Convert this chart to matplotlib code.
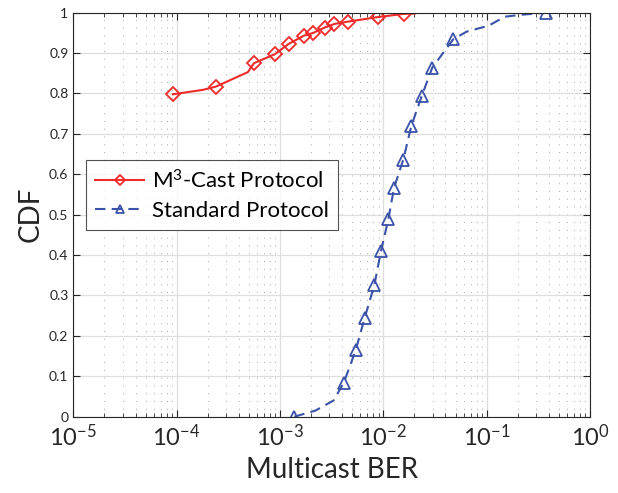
import numpy as np
import matplotlib.pyplot as plt
from matplotlib.ticker import LogLocator, FixedLocator, NullFormatter

plt.rcParams['font.family'] = ['Lato', 'DejaVu Sans']
plt.rcParams['mathtext.fontset'] = 'custom'
plt.rcParams['mathtext.rm'] = 'Lato'
plt.rcParams['mathtext.it'] = 'Lato'

# M3-Cast protocol CDF (points without a marker shape the line between markers)
m3_ber = [9.2e-5, 1.8e-4, 2.4e-4, 4.9e-4, 5.6e-4, 8.9e-4, 1.22e-3, 1.7e-3,
          2.1e-3, 2.7e-3, 3.35e-3, 4.6e-3, 8.8e-3, 1.58e-2, 2.03e-2]
m3_cdf = [0.798, 0.809, 0.817, 0.853, 0.875, 0.897, 0.923, 0.943,
          0.950, 0.963, 0.972, 0.978, 0.989, 0.997, 0.998]
m3_marked = [0, 2, 4, 5, 6, 7, 8, 9, 10, 11, 12, 13]

# Standard protocol CDF
std_ber = [1.38e-3, 2.2e-3, 3.3e-3, 4.15e-3, 5.4e-3, 6.6e-3, 8.2e-3, 9.5e-3,
           1.12e-2, 1.27e-2, 1.56e-2, 1.87e-2, 2.35e-2, 2.98e-2, 4.75e-2,
           6.4e-2, 1.05e-1, 1.5e-1, 2.2e-1, 3.72e-1]
std_cdf = [0.0, 0.015, 0.04, 0.084, 0.164, 0.244, 0.326, 0.41,
           0.489, 0.566, 0.636, 0.72, 0.793, 0.864, 0.934,
           0.953, 0.968, 0.99, 0.995, 1.0]
std_marked = [0, 3, 4, 5, 6, 7, 8, 9, 10, 11, 12, 13, 14, 19]

yticks = [0, 0.1, 0.2, 0.3, 0.4, 0.5, 0.6, 0.7, 0.8, 0.9, 1]

fig = plt.figure(figsize=(6.18, 4.93), dpi=100)
ax = fig.add_axes([0.1186, 0.1548, 0.836, 0.8195])

ax.plot(m3_ber, m3_cdf, '-', color='#ee2a2a', lw=1.5,
        marker='D', ms=7, mfc='none', mew=1.3, markevery=m3_marked,
        label='M$^{3}$-Cast Protocol')
ax.plot(std_ber, std_cdf, '--', color='#3a52a8', lw=1.5, dashes=(5, 3),
        marker='^', ms=8, mfc='none', mew=1.3, markevery=std_marked,
        label='Standard Protocol')

ax.set_xscale('log')
ax.set_xlim(1e-5, 1)
ax.set_ylim(0, 1)
ax.xaxis.set_minor_locator(LogLocator(base=10, subs=np.arange(2, 10), numticks=20))
ax.xaxis.set_minor_formatter(NullFormatter())
ax.set_xticks([1e-5, 1e-4, 1e-3, 1e-2, 1e-1, 1])
ax.set_xticklabels(['$10^{-5}$', '$10^{-4}$', '$10^{-3}$', '$10^{-2}$',
                    '$10^{-1}$', '$10^{0}$'], fontsize=17)
ax.yaxis.set_major_locator(FixedLocator(yticks))
ax.set_yticklabels(['%g' % v for v in yticks], fontsize=10)

ax.tick_params(which='both', direction='in', top=True, right=True, colors='#262626')
ax.tick_params(which='major', length=5, width=0.8)
ax.tick_params(which='minor', length=3, width=0.6)
ax.tick_params(axis='x', which='major', pad=5)

ax.grid(True, which='major', color='#dedede', lw=0.9, ls='-')
ax.grid(True, which='minor', axis='x', color='#a8a8a8', lw=0.7, ls=(0, (1, 7)))
ax.set_axisbelow(True)
for s in ax.spines.values():
    s.set_color('#262626')
    s.set_linewidth(0.8)

ax.set_xlabel('Multicast BER', fontsize=20, color='#262626', labelpad=5)
ax.set_ylabel('CDF', fontsize=20, color='#262626')

leg = ax.legend(loc='upper left', bbox_to_anchor=(0.025, 0.635), borderaxespad=0,
                fontsize=16, frameon=True, fancybox=False, edgecolor='#262626',
                handlelength=2.2, handletextpad=0.35, markerscale=0.7,
                borderpad=0.4, labelspacing=0.4)
leg.get_frame().set_linewidth(0.8)

fig.savefig('out.png', dpi=100)
